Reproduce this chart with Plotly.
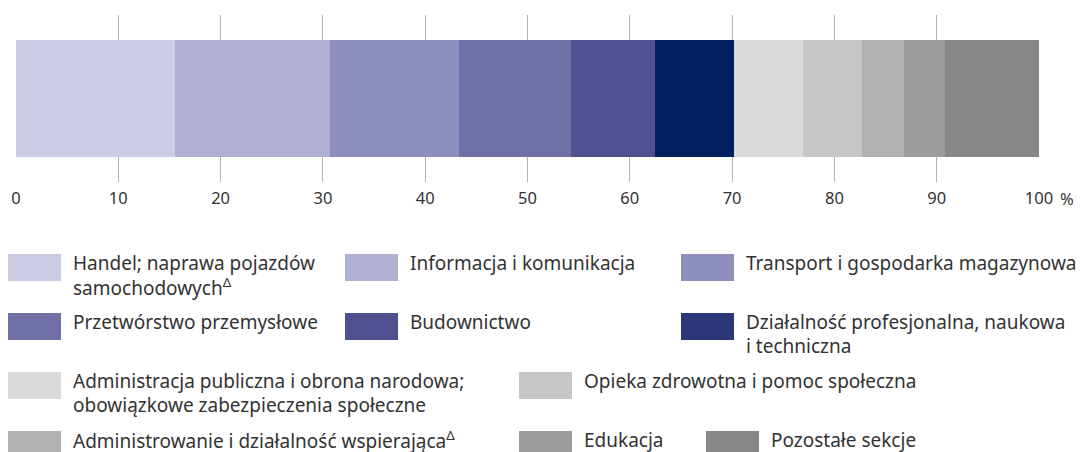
import plotly.graph_objects as go

categories = [
    "Handel; naprawa pojazdów<br>samochodowych<sup>Δ</sup>",
    "Informacja i komunikacja",
    "Transport i gospodarka magazynowa",
    "Przetwórstwo przemysłowe",
    "Budownictwo",
    "Działalność profesjonalna, naukowa<br>i techniczna",
    "Administracja publiczna i obrona narodowa;<br>obowiązkowe zabezpieczenia społeczne",
    "Opieka zdrowotna i pomoc społeczna",
    "Administrowanie i działalność wspierająca<sup>Δ</sup>",
    "Edukacja",
    "Pozostałe sekcje",
]
values = [15.5, 15.2, 12.6, 11.0, 8.2, 7.7, 6.7, 5.8, 4.1, 4.0, 9.2]
bar_colors = ["#cbcce4", "#b0b0d2", "#8f8fbe", "#7170a6", "#4e508f", "#01205f",
              "#d9dbdb", "#c5c7c6", "#b1b2b1", "#9c9d9c", "#878787"]
legend_colors = ["#cbcce4", "#b0b0d2", "#8f8fbe", "#7170a6", "#4e508f", "#2b3779",
                 "#d9dbdb", "#c5c7c6", "#b1b2b1", "#9c9d9c", "#878787"]
tick_vals = [0, 10, 20, 30, 40, 50, 60, 70, 80, 90, 100]
tick_text = ["0", "10", "20", "30", "40", "50", "60", "70", "80", "90", "100"]
unit_label = "%"

# legend layout (pixel positions of swatch left/top)
legend_pos = [(8, 254), (345, 254), (681, 254),
              (8, 313), (345, 313), (681, 313),
              (8, 372), (519, 372),
              (8, 431), (519, 431), (706, 431)]

W, H = 1081, 452
ML, MR, MT, MB = 16, 42, 15, 270
PW = W - ML - MR
PH = H - MT - MB

def px2paper(x, y):
    return (x - ML) / PW, (H - MB - y) / PH

FONT = "Noto Sans, sans-serif"
TXT = "#333333"
TICK_SIZE = 16.5
LEG_SIZE = 19

fig = go.Figure()
for cat, val, col in zip(categories, values, bar_colors):
    fig.add_trace(go.Bar(
        x=[val], y=["a"], orientation="h", name=cat.replace("<br>", " "),
        marker=dict(color=col, line=dict(width=0)),
        width=0.695, showlegend=False, hoverinfo="x+name",
    ))

shapes = []
annotations = []
for cat, col, (lx, ly) in zip(categories, legend_colors, legend_pos):
    x0, y0 = px2paper(lx, ly)
    x1, y1 = px2paper(lx + 53, ly + 27)
    shapes.append(dict(type="rect", xref="paper", yref="paper",
                       x0=x0, x1=x1, y0=y1, y1=y0,
                       fillcolor=col, line=dict(width=0), layer="above"))
    for i, line in enumerate(cat.split("<br>")):
        tx, ty = px2paper(lx + 64, ly + 9 + 23.5 * i)
        annotations.append(dict(xref="paper", yref="paper", x=tx, y=ty,
                                xanchor="left", yanchor="middle", align="left",
                                text=line, showarrow=False, borderpad=0,
                                font=dict(size=LEG_SIZE, color=TXT, family=FONT)))

# unit label next to the last tick
ux, uy = px2paper(1059, 198)
annotations.append(dict(xref="paper", yref="paper", x=ux, y=uy,
                        xanchor="left", yanchor="middle", text=unit_label,
                        showarrow=False, borderpad=0,
                        font=dict(size=TICK_SIZE, color=TXT, family=FONT)))

fig.update_layout(
    width=W, height=H,
    margin=dict(l=ML, r=MR, t=MT, b=MB),
    barmode="stack",
    plot_bgcolor="white", paper_bgcolor="white",
    font=dict(family=FONT, size=TICK_SIZE, color=TXT),
    shapes=shapes, annotations=annotations,
    bargap=0,
)
fig.update_xaxes(range=[0, 100], tickvals=tick_vals, ticktext=tick_text,
                 showgrid=True, gridcolor="#b3b3b3", gridwidth=1,
                 zeroline=False, showline=False, ticks="", ticklabelstandoff=4,
                 tickfont=dict(size=TICK_SIZE, color=TXT), fixedrange=True)
fig.update_yaxes(showticklabels=False, showgrid=False, zeroline=False,
                 range=[-0.5, 0.5], fixedrange=True)

fig.write_html("out.html", config={"displayModeBar": False},
               post_script="document.body.style.margin='0';document.body.style.overflow='hidden';")
